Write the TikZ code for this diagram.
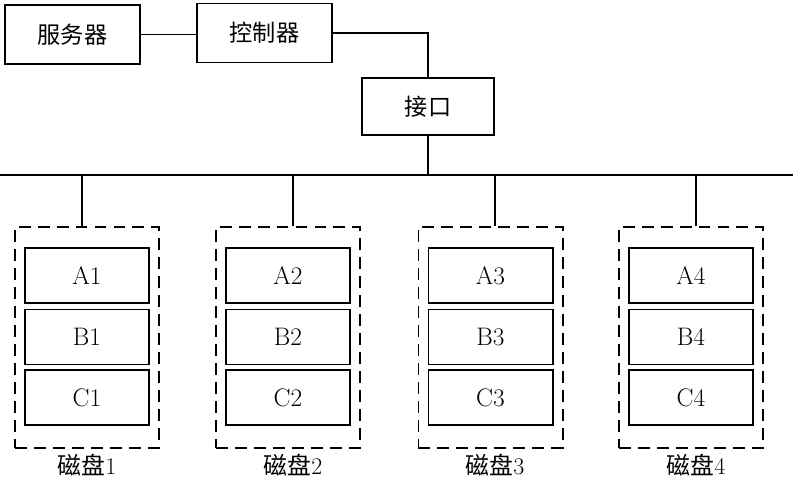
\documentclass[tikz,border=0pt]{standalone}
\usepackage{fontspec}
\newfontfamily\cjk{Noto Sans CJK SC}

\begin{document}
\begin{tikzpicture}[x=0.025cm,y=-0.025cm,
		unitbox/.style={draw,line width=1.4pt,minimum width=3.375cm,minimum height=1.475cm,inner sep=0pt,font=\cjk\fontsize{16.5}{18}\selectfont},
		diskbox/.style={draw,line width=1.4pt,dash pattern=on 8.5pt off 5pt,minimum width=3.6cm,minimum height=5.525cm,inner sep=0pt},
		partbox/.style={draw,line width=1.4pt,minimum width=3.1cm,minimum height=1.375cm,inner sep=0pt,font=\fontsize{18}{20}\selectfont},
		wire/.style={line width=1.3pt}]

		\useasboundingbox (0,0) rectangle (800,484);

		\node[unitbox] (server) at (72.5,34.5) {服务器};
		\node[unitbox] (ctrl) at (264.5,33) {控制器};
		\node[unitbox,minimum width=3.3cm,minimum height=1.425cm] (iface) at (428,106.5) {接口};

		\draw [wire] (server.east) -- (server.east -| ctrl.west);
		\draw [wire] (ctrl.east) -| (iface.north);

		\coordinate (busL) at (0,175);
		\coordinate (busR) at (793,175);
		\draw [wire] (busL) -- (busR);
		\draw [wire] (iface.south) -- (iface.south |- busL);

		\foreach \i/\xc/\xs/\xt in {1/87/82/87, 2/288/293/293, 3/490.5/495/495, 4/691/696/696}{
			\node[diskbox] (disk\i) at (\xc,337.5) {};
			\node[partbox] (A\i) at (\xc,275.5) {A\i};
			\node[partbox] (B\i) at (\xc,337) {B\i};
			\node[partbox] (C\i) at (\xc,397.5) {C\i};
			\node[font=\fontsize{17}{19}\selectfont] (label\i) at (\xt,465) {{\cjk 磁盘}\i};
			\coordinate (tap\i) at (\xs,175);
			\draw [wire] (tap\i) -- (tap\i |- disk\i.north);
		}

	\end{tikzpicture}
\end{document}
